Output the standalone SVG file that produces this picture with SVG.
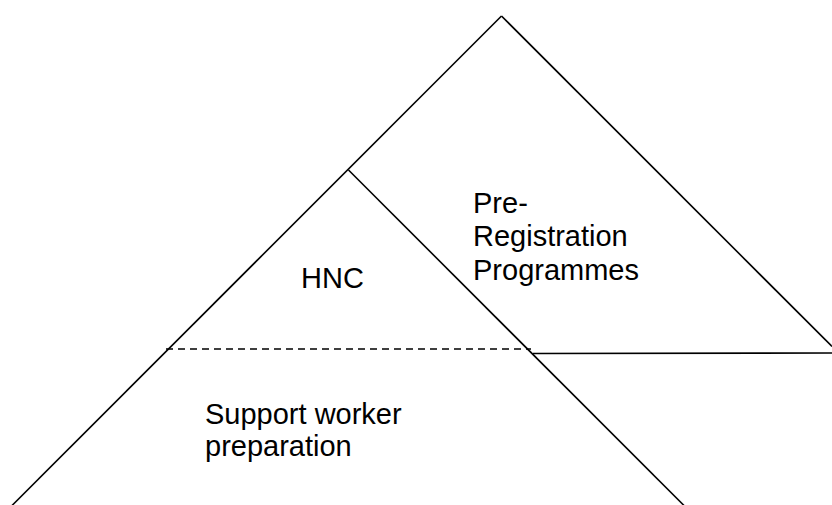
<svg xmlns="http://www.w3.org/2000/svg" width="832" height="505" viewBox="0 0 832 505">
  <style>
    .edge { stroke: #000; stroke-width: 1.6; fill: none; }
    .dash { stroke-dasharray: 7 5; }
    .label { font-family: "Liberation Sans", Arial, sans-serif; font-size: 29px; fill: #000; }
  </style>
  <rect width="832" height="505" fill="#fff"/>
  <g id="connectors">
    <line class="edge" x1="501.5" y1="16" x2="12" y2="505.5"/>
    <line class="edge" x1="501.5" y1="16" x2="832" y2="346.5"/>
    <line class="edge" x1="348.5" y1="170" x2="684" y2="505.5"/>
    <line class="edge dash" x1="166" y1="349" x2="531" y2="349"/>
    <line class="edge" x1="533" y1="353.5" x2="832" y2="353"/>
  </g>
  <g id="hnc">
    <text class="label" x="301" y="288">HNC</text>
  </g>
  <g id="pre-registration">
    <text class="label" x="473" y="213">Pre-</text>
    <text class="label" x="473" y="246">Registration</text>
    <text class="label" x="473" y="280">Programmes</text>
  </g>
  <g id="support-worker">
    <text class="label" x="205" y="424">Support worker</text>
    <text class="label" x="205" y="456">preparation</text>
  </g>
</svg>
